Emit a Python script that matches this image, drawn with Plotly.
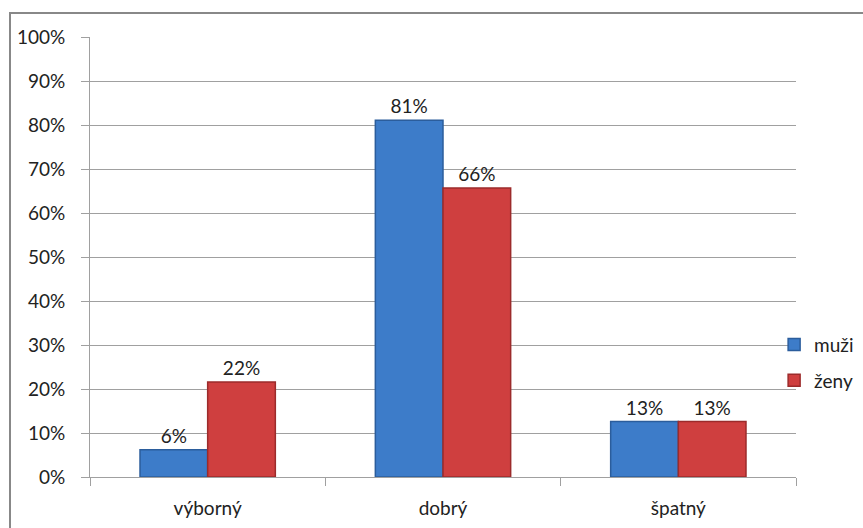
import plotly.graph_objects as go

categories = ["výborný", "dobrý", "špatný"]
muzi = [6.2, 81.1, 12.6]
zeny = [21.6, 65.7, 12.6]
series_names = ["muži", "ženy"]
y_ticks = [0, 10, 20, 30, 40, 50, 60, 70, 80, 90, 100]
y_tick_labels = [f"{v}%" for v in y_ticks]

FONT = "Lato, 'Open Sans', sans-serif"
FS = 19

fig = go.Figure()
fig.add_trace(go.Bar(
    x=categories, y=muzi, name=series_names[0], legendgroup="a",
    marker=dict(color="#3d7cc9", line=dict(color="#2b5d9c", width=1.5)),
    text=[f"{round(v)}%" for v in muzi], textposition="outside",
    textfont=dict(size=FS, color="#222"), cliponaxis=False,
))
fig.add_trace(go.Bar(
    x=categories, y=zeny, name=series_names[1], legendgroup="b",
    marker=dict(color="#cf3f3f", line=dict(color="#9c2b2b", width=1.5)),
    text=[f"{round(v)}%" for v in zeny], textposition="outside",
    textfont=dict(size=FS, color="#222"), cliponaxis=False,
))

fig.update_layout(
    width=863, height=528,
    margin=dict(l=90, r=67, t=37, b=51, autoexpand=False),
    paper_bgcolor="white", plot_bgcolor="white",
    font=dict(family=FONT, size=FS, color="#222"),
    barmode="group", bargap=0.425, bargroupgap=0,
    showlegend=True,
    legend=dict(x=0.969, xanchor="left", y=0.26, yanchor="middle",
                font=dict(size=FS), tracegroupgap=8, itemwidth=30,
                bgcolor="rgba(0,0,0,0)"),
    shapes=[dict(type="rect", xref="paper", yref="paper",
                 x0=(10 - 90) / 706, x1=(900 - 90) / 706,
                 y0=-0.3, y1=1 + 24 / 440,
                 line=dict(color="#888", width=2), layer="below")],
)
fig.update_xaxes(
    showline=True, linecolor="#a0a0a0", linewidth=1,
    ticks="outside", tickson="boundaries", ticklen=8, tickcolor="#a0a0a0",
    tickfont=dict(size=FS), showgrid=False, ticklabelstandoff=14,
)
fig.update_yaxes(
    range=[0, 100], tickvals=y_ticks, ticktext=y_tick_labels,
    showline=True, linecolor="#a0a0a0", linewidth=1,
    ticks="outside", ticklen=8, tickcolor="#a0a0a0",
    showgrid=True, gridcolor="#a0a0a0", gridwidth=1,
    tickfont=dict(size=FS), zeroline=False, ticklabelstandoff=12,
)

fig.write_html("out.html", config={"displayModeBar": False},
               post_script="document.body.style.margin='0';document.body.style.overflow='hidden';")
